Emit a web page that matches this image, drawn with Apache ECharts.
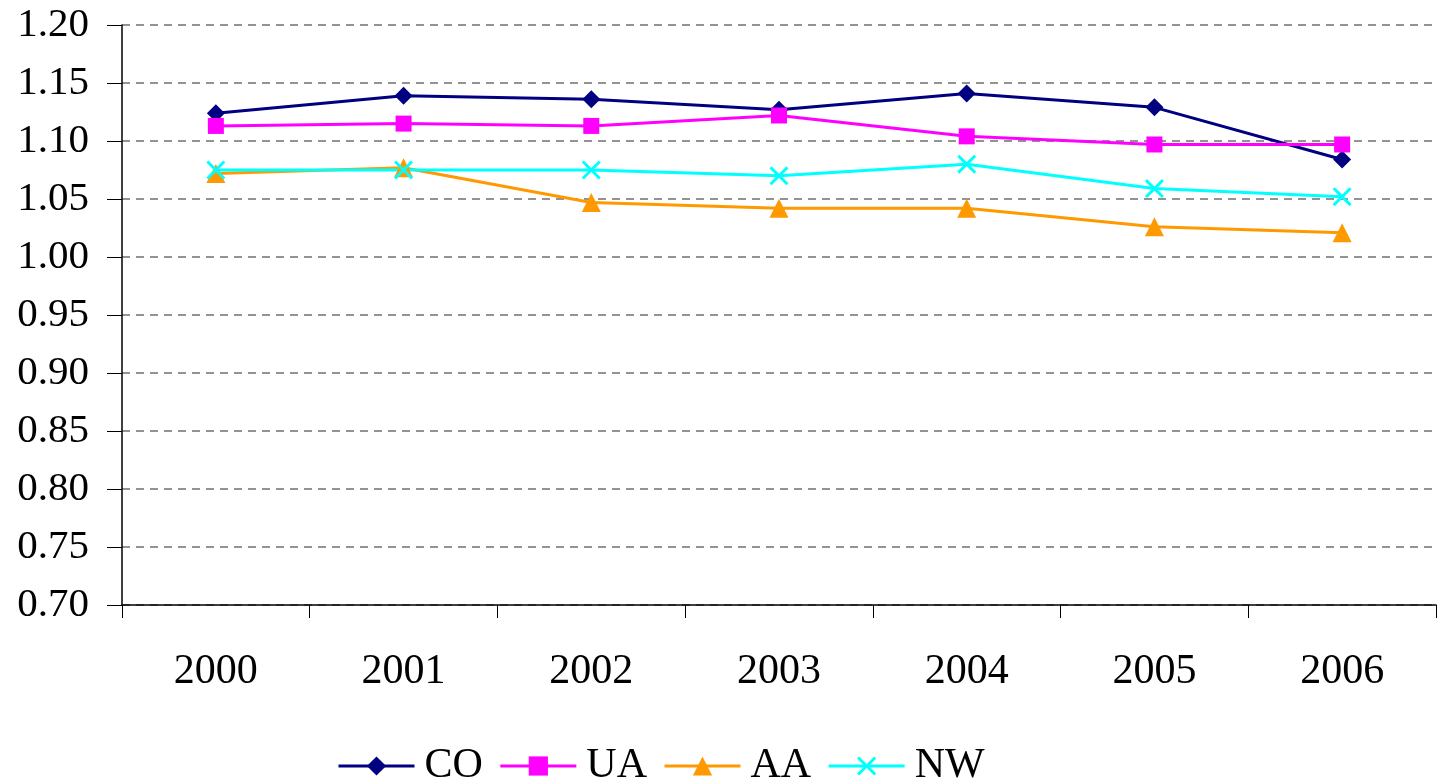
<!DOCTYPE html>
<html><head><meta charset="utf-8">
<script src="https://cdn.jsdelivr.net/npm/echarts@6/dist/echarts.min.js"></script>
<style>html,body{margin:0;padding:0;background:#fff}#c{width:1437px;height:780px}</style>
</head><body><div id="c"></div>
<script>
const categories = ['2000','2001','2002','2003','2004','2005','2006'];
const CO = [1.124, 1.139, 1.136, 1.127, 1.141, 1.129, 1.084];
const UA = [1.113, 1.115, 1.113, 1.122, 1.104, 1.097, 1.097];
const AA = [1.072, 1.077, 1.047, 1.042, 1.042, 1.026, 1.021];
const NW = [1.075, 1.075, 1.075, 1.070, 1.080, 1.059, 1.052];
const yTicks = {min: 0.70, max: 1.20, interval: 0.05};

const xPath = 'path://M0,1.1L1.1,0L5,3.9L8.9,0L10,1.1L6.1,5L10,8.9L8.9,10L5,6.1L1.1,10L0,8.9L3.9,5Z';
const font = 'Liberation Serif';
function mk(name, data, color, symbol, size){
  return {name, type:'line', data, symbol, symbolSize:size,
    lineStyle:{color, width:3}, itemStyle:{color}, emphasis:{disabled:true}, z: 3};
}
const chart = echarts.init(document.getElementById('c'));
chart.setOption({
  animation:false,
  grid:{left:122, right:1, top:25, bottom:175},
  xAxis:{type:'category', data:categories, boundaryGap:true,
    axisLine:{lineStyle:{color:'#000', width:1.5}},
    axisTick:{show:true, length:13, lineStyle:{color:'#000'}},
    axisLabel:{fontFamily:font, fontSize:42, color:'#000', margin:46}},
  yAxis:{type:'value', min:yTicks.min, max:yTicks.max, interval:yTicks.interval,
    axisLine:{show:true, lineStyle:{color:'#000', width:1.5}},
    axisTick:{show:true, inside:false, length:15, lineStyle:{color:'#000'}},
    axisLabel:{fontFamily:font, fontSize:41, color:'#000', margin:33, formatter:v=>v.toFixed(2)},
    splitLine:{show:true, lineStyle:{color:'#707070', type:[8,6], width:1.5}}},
  legend:{top:740, left:332, itemWidth:76, itemHeight:24, itemGap:16,
    lineStyle:{width:3},
    textStyle:{fontFamily:font, fontSize:42, color:'#000', padding:[0,0,0,5]},
    data:['CO','UA','AA','NW']},
  series:[
    mk('CO', CO, '#000080', 'diamond', 18),
    mk('UA', UA, '#FF00FF', 'rect', 16),
    mk('AA', AA, '#FF9900', 'triangle', 19),
    mk('NW', NW, '#00FFFF', xPath, 19)
  ]
});
</script></body></html>
